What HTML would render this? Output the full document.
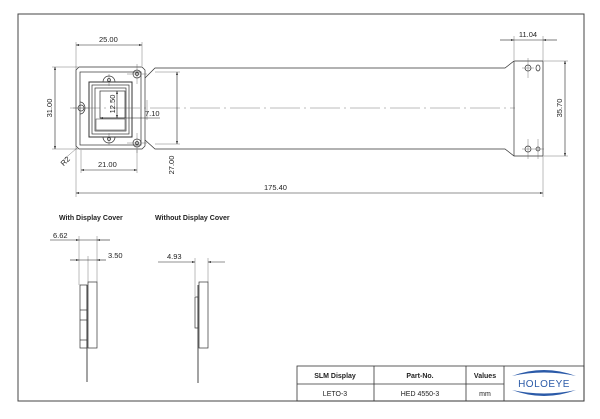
<!DOCTYPE html>
<html><head><meta charset="utf-8"><style>
html,body{margin:0;padding:0;background:#fff;width:600px;height:419px;overflow:hidden}
svg{display:block}
text{font-family:"Liberation Sans",sans-serif;fill:#222}
</style></head><body>
<svg width="600" height="419" viewBox="0 0 600 419" xmlns="http://www.w3.org/2000/svg">
<defs>
<marker id="a" viewBox="0 0 10 6" refX="10" refY="3" markerWidth="6" markerHeight="3" orient="auto-start-reverse"><path d="M0,0L10,3L0,6z" fill="#111"/></marker>
</defs>
<rect x="18" y="14" width="566" height="387" fill="none" stroke="#444" stroke-width="1"/>
<g fill="none" stroke="#333" stroke-width="0.7">
<!-- housing -->
<path d="M79,67 H142 L145,70 V146 L142,149 H79 L76,146 V70 Z"/>
<rect x="80" y="72" width="61" height="73"/>
<!-- cable -->
<path d="M145,78 L155,68 H505 L514,61 H543 V156 H514 L505,149 H155 L145,140"/>
<line x1="514" y1="61" x2="514" y2="156"/>
<!-- window -->
<rect x="89" y="82" width="43" height="55" stroke-width="1"/>
<rect x="92" y="85" width="37" height="49"/>
<rect x="95" y="88" width="31" height="43"/>
<rect x="100" y="91" width="25" height="27"/>
<rect x="96" y="119" width="29" height="11" stroke-width="0.5"/>
<!-- holes -->
<circle cx="137" cy="74" r="4"/><circle cx="137" cy="74" r="1.5"/>
<circle cx="137" cy="143" r="4"/><circle cx="137" cy="143" r="1.5"/>
<path d="M103,82 A6,6 0 0 1 115,82"/><circle cx="109" cy="80" r="1.5"/>
<path d="M103,137 A6,6 0 0 0 115,137"/><circle cx="109" cy="139" r="1.5"/>
<path d="M80,102 A5,6 0 0 1 80,114"/><circle cx="81" cy="108" r="3"/>
<circle cx="528" cy="68" r="3"/><ellipse cx="538" cy="68" rx="2" ry="3"/>
<circle cx="528" cy="149" r="3"/><circle cx="538" cy="149" r="2"/>
</g>
<g stroke="#555" stroke-width="0.4" fill="none">
<line x1="70" y1="108" x2="515" y2="108" stroke-dasharray="30,4,2,4"/>
<line x1="137" y1="64" x2="137" y2="84"/><line x1="127" y1="74" x2="147" y2="74"/>
<line x1="137" y1="133" x2="137" y2="153"/><line x1="127" y1="143" x2="147" y2="143"/>
<line x1="109" y1="74" x2="109" y2="86"/><line x1="109" y1="133" x2="109" y2="145"/>
<line x1="73" y1="108" x2="89" y2="108"/>
<line x1="528" y1="58" x2="528" y2="78"/><line x1="522" y1="68" x2="534" y2="68"/>
<line x1="528" y1="139" x2="528" y2="159"/><line x1="538" y1="139" x2="538" y2="159"/><line x1="522" y1="149" x2="544" y2="149"/>
<!-- extension lines -->
<line x1="76" y1="42" x2="76" y2="197"/><line x1="142" y1="42" x2="142" y2="66"/>
<line x1="52" y1="67" x2="78" y2="67"/><line x1="52" y1="149" x2="78" y2="149"/>
<line x1="81" y1="150" x2="81" y2="173"/><line x1="137" y1="150" x2="137" y2="173"/>
<line x1="155" y1="72" x2="180" y2="72"/><line x1="155" y1="144" x2="180" y2="144"/>
<line x1="543" y1="36" x2="543" y2="197"/><line x1="514" y1="36" x2="514" y2="60"/>
<line x1="544" y1="61" x2="568" y2="61"/><line x1="544" y1="156" x2="568" y2="156"/>
<line x1="62" y1="161" x2="77" y2="148"/>
<line x1="147" y1="100" x2="147" y2="120"/>
</g>
<g stroke="#222" stroke-width="0.6" fill="none">
<line x1="76" y1="45" x2="142" y2="45" marker-start="url(#a)" marker-end="url(#a)"/>
<line x1="55" y1="67" x2="55" y2="149" marker-start="url(#a)" marker-end="url(#a)"/>
<line x1="81" y1="170" x2="137" y2="170" marker-start="url(#a)" marker-end="url(#a)"/>
<line x1="177" y1="72" x2="177" y2="144" marker-start="url(#a)" marker-end="url(#a)"/>
<line x1="76" y1="193" x2="543" y2="193" marker-start="url(#a)" marker-end="url(#a)"/>
<line x1="500" y1="40" x2="514" y2="40" marker-end="url(#a)"/><line x1="557" y1="40" x2="543" y2="40" marker-end="url(#a)"/>
<line x1="514" y1="40" x2="543" y2="40"/>
<line x1="565" y1="61" x2="565" y2="156" marker-start="url(#a)" marker-end="url(#a)"/>
<line x1="117" y1="91" x2="117" y2="118" marker-start="url(#a)" marker-end="url(#a)"/>
<line x1="100" y1="118" x2="160" y2="118" marker-start="url(#a)"/>
</g>
<g font-size="7.5">
<text x="99" y="42">25.00</text>
<text x="528" y="37" text-anchor="middle">11.04</text>
<text x="98" y="167">21.00</text>
<text x="264" y="190">175.40</text>
<text x="145" y="116">7.10</text>
<text transform="translate(52,108) rotate(-90)" text-anchor="middle">31.00</text>
<text transform="translate(174,165) rotate(-90)" text-anchor="middle">27.00</text>
<text transform="translate(562,108) rotate(-90)" text-anchor="middle">35.70</text>
<text transform="translate(115,104) rotate(-90)" text-anchor="middle">12.50</text>
<text transform="translate(67,163) rotate(-45)" text-anchor="middle">R2</text>
</g>
<!-- side views -->
<g font-size="7" font-weight="bold"><text x="59" y="220">With Display Cover</text><text x="155" y="220">Without Display Cover</text></g>
<g font-size="7.5"><text x="53" y="238">6.62</text><text x="108" y="258">3.50</text><text x="167" y="259">4.93</text></g>
<g stroke="#555" stroke-width="0.4"><line x1="79" y1="236" x2="79" y2="285"/><line x1="97" y1="236" x2="97" y2="282"/><line x1="88" y1="256" x2="88" y2="282"/>
<line x1="195" y1="258" x2="195" y2="296"/><line x1="208" y1="258" x2="208" y2="282"/></g>
<g stroke="#222" stroke-width="0.6">
<line x1="50" y1="240" x2="79" y2="240" marker-end="url(#a)"/><line x1="110" y1="240" x2="97" y2="240" marker-end="url(#a)"/><line x1="79" y1="240" x2="97" y2="240"/>
<line x1="70" y1="260" x2="79" y2="260" marker-end="url(#a)"/><line x1="106" y1="260" x2="97" y2="260" marker-end="url(#a)"/><line x1="79" y1="260" x2="97" y2="260"/>
<line x1="158" y1="262" x2="195" y2="262" marker-end="url(#a)"/><line x1="225" y1="262" x2="208" y2="262" marker-end="url(#a)"/>
</g>
<g fill="none" stroke="#333" stroke-width="0.7">
<rect x="80" y="285" width="7" height="63"/><line x1="80" y1="310" x2="87" y2="310"/><line x1="80" y1="320" x2="87" y2="320"/><line x1="80" y1="340" x2="87" y2="340"/>
<rect x="88" y="282" width="9" height="66"/>
<line x1="87" y1="285" x2="87" y2="382" stroke-width="0.9"/>
<rect x="199" y="282" width="9" height="66"/>
<rect x="195" y="297" width="3" height="31"/>
<line x1="198" y1="285" x2="198" y2="383" stroke-width="0.9"/>
</g>
<!-- title block -->
<g fill="none" stroke="#333" stroke-width="0.8">
<rect x="297" y="366" width="287" height="35"/>
<line x1="297" y1="384" x2="504" y2="384"/>
<line x1="374" y1="366" x2="374" y2="401"/><line x1="466" y1="366" x2="466" y2="401"/><line x1="504" y1="366" x2="504" y2="401"/>
</g>
<g font-size="7" text-anchor="middle">
<text x="335" y="378" font-weight="bold">SLM Display</text><text x="420" y="378" font-weight="bold">Part-No.</text><text x="485" y="378" font-weight="bold">Values</text>
<text x="335" y="396">LETO-3</text><text x="420" y="396">HED 4550-3</text><text x="485" y="396">mm</text>
</g>
<path d="M512,376 Q544,364 576,376 Q544,369 512,376Z" fill="#2b5aa8"/>
<path d="M512,390 Q544,402 576,390 Q544,397 512,390Z" fill="#2b5aa8"/>
<text x="544" y="387" font-size="10" text-anchor="middle" style="fill:#2b5aa8" letter-spacing="0.5">HOLOEYE</text>
</svg>
</body></html>
